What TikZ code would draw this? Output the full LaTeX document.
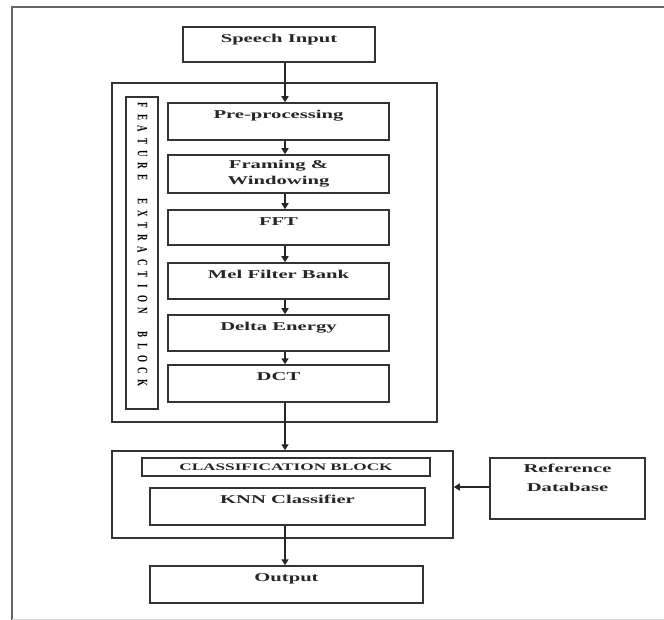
\documentclass[tikz,border=0pt]{standalone}
\usepackage{fontspec}
\setmainfont{Liberation Serif}
\newfontfamily\dfont[FakeStretch=1.72]{Liberation Serif}
\usetikzlibrary{arrows.meta}
\begin{document}
\begin{tikzpicture}[x=1pt,y=-1pt,
  box/.style={draw=black!80, line width=1.5pt, inner sep=0pt,
    font=\dfont\bfseries\fontsize{12}{14}\selectfont, text=black!85},
  tbox/.style={box, text height=15.5pt, text depth=#1},
  group/.style={draw=black!80, line width=1.5pt, inner sep=0pt},
  arr/.style={line width=1.5pt, draw=black!85, -{Triangle[length=6pt,width=7pt]}},
  vlet/.style={inner sep=0pt, font=\bfseries\fontsize{9}{9}\selectfont, text=black},
  framebar/.style={draw=black!60, line width=2.5pt}]
\useasboundingbox (0,0) rectangle (664,620);
% outer frame
\draw[framebar] (12,620) -- (12,7) -- (664,7);
\draw[black!15, line width=0.8pt] (12,619) -- (664,619);

\coordinate (ax) at (285,0);

% top input
\node[tbox=19.5pt, minimum width=192pt] (speech) at (279,44.5) {Speech Input};

% feature extraction block
\node[group, minimum width=325pt, minimum height=339pt] (feat) at (274.5,252.5) {};
\node[group, minimum width=32pt, minimum height=312pt] (vbox) at (142,253) {};
\foreach \c/\k in {F/0,E/1,A/2,T/3,U/4,R/5,E/6,E/8,X/9,T/10,R/11,A/12,C/13,T/14,I/15,O/16,N/17,B/19,L/20,O/21,C/22,K/23}
  \node[vlet] (vl\k) at (142.5,105+\k*12.1) {\scalebox{1.6}[1]{\rotatebox{-90}{\c}}};

\node[tbox=21.5pt, minimum width=221pt] (pre) at (278.5,121.5) {Pre-processing};
\node[box, minimum width=221pt, minimum height=38pt, align=center,
      font=\dfont\bfseries\fontsize{12}{16}\selectfont] (fram) at (278.5,174) {Framing \&\\Windowing};
\node[tbox=19.5pt, minimum width=221pt] (fft) at (278.5,227.5) {FFT};
\node[tbox=20.5pt, minimum width=221pt] (mel) at (278.5,281) {Mel Filter Bank};
\node[tbox=20.5pt, minimum width=221pt] (delta) at (278.5,333) {Delta Energy};
\node[tbox=21.5pt, minimum width=221pt] (dct) at (278.5,383.5) {DCT};

% classification block
\node[group, minimum width=341pt, minimum height=87pt] (cls) at (282.5,494.5) {};
\node[box, minimum width=288pt, minimum height=18pt,
      font=\dfont\bfseries\fontsize{10}{10}\selectfont] (cb) at (286,467) {CLASSIFICATION BLOCK};
\node[tbox=21.5pt, minimum width=275pt] (knn) at (287.5,506.5) {KNN Classifier};

\node[tbox=21.5pt, minimum width=273pt] (out) at (286.5,584.5) {Output};

\node[box, minimum width=155pt, minimum height=61pt,
      label={[anchor=north, align=center, yshift=-7pt, inner sep=0pt,
              font=\dfont\bfseries\fontsize{12}{19}\selectfont, text=black!85]north:Reference\\Database}] (ref) at (567.5,488.5) {};

% arrows
\draw[arr] (speech.south -| ax) -- (pre.north -| ax);
\draw[arr] (pre.south -| ax) -- (fram.north -| ax);
\draw[arr] (fram.south -| ax) -- (fft.north -| ax);
\draw[arr] (fft.south -| ax) -- (mel.north -| ax);
\draw[arr] (mel.south -| ax) -- (delta.north -| ax);
\draw[arr] (delta.south -| ax) -- (dct.north -| ax);
\draw[arr] (dct.south -| ax) -- (cls.north -| ax);
\draw[arr] (knn.south -| ax) -- (out.north -| ax);
\draw[arr] ([yshift=1.5pt]ref.west) -- ([yshift=1.5pt]ref.west -| cls.east);
\end{tikzpicture}
\end{document}
